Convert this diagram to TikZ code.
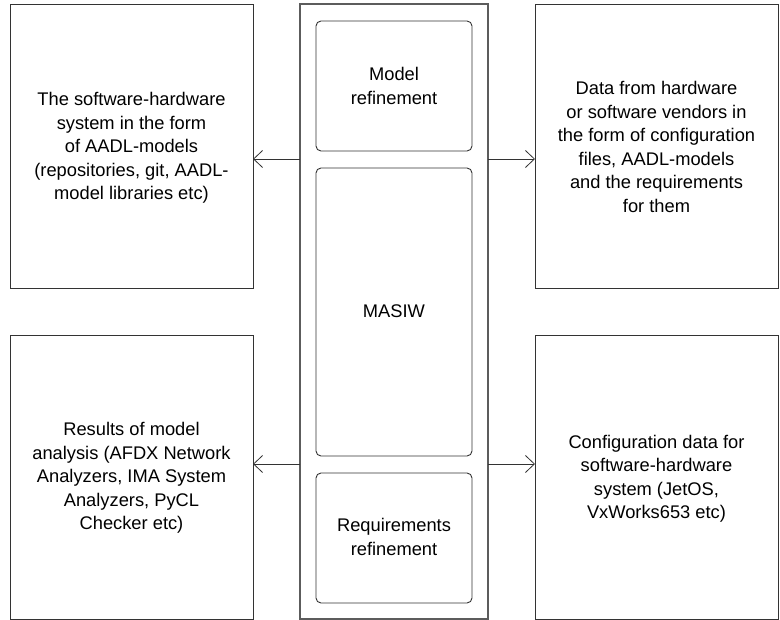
\documentclass[tikz,border=0pt]{standalone}
\usepackage{fontspec}
\setmainfont{Liberation Sans}
\usetikzlibrary{arrows.meta}
\definecolor{ln}{HTML}{333333}
\tikzset{
  txt/.style={align=center, font=\fontsize{18.3}{23.5}\selectfont, text=black, inner sep=0pt},
  sqbox/.style={draw=ln, line width=0.9pt},
  rbox/.style={draw=ln, line width=0.9pt, rounded corners=5pt},
  conn/.style={draw=ln, line width=0.8pt, -{Straight Barb[length=9pt,width=17pt,line width=0.8pt]}}
}
\begin{document}
\begin{tikzpicture}[x=1pt,y=-1pt]
\useasboundingbox (0,0) rectangle (780,620);
% outer left/right boxes
\draw[sqbox] (10,4) rectangle (253,288);
\node[txt] (tl) at (131.5,148) {The software-hardware\\system in the form\\of AADL-models\\(repositories, git, AADL-\\model libraries etc)};
\coordinate (tlE) at (253,159);
\draw[sqbox] (10,335) rectangle (253,619);
\node[txt] (bl) at (131.5,478) {Results of model\\analysis (AFDX Network\\Analyzers, IMA System\\Analyzers, PyCL\\Checker etc)};
\coordinate (blE) at (253,464);
\draw[sqbox] (535,4) rectangle (778,288);
\node[txt] (tr) at (656.5,147) {Data from hardware\\or software vendors in\\the form of configuration\\files, AADL-models\\and the requirements\\for them};
\coordinate (trW) at (535,159);
\draw[sqbox] (535,335) rectangle (778,619);
\node[txt] (br) at (656.5,479) {Configuration data for\\software-hardware\\system (JetOS,\\VxWorks653 etc)};
\coordinate (brW) at (535,464);
% central
\draw[draw=ln!80, line width=1.2pt] (300,4) rectangle (488,619);
\coordinate (cW1) at (300,159);
\coordinate (cE1) at (488,159);
\coordinate (cW2) at (300,464);
\coordinate (cE2) at (488,464);
\draw[rbox] (316,21) rectangle (472,151);
\node[txt] (mr) at (394,86) {Model\\refinement};
\draw[rbox] (316,168) rectangle (472,456);
\node[txt] (ms) at (394,311) {MASIW};
\draw[rbox] (316,473) rectangle (472,603);
\node[txt] (rr) at (394,537) {Requirements\\refinement};
% connectors
\draw[conn] (cW1) -- (tlE);
\draw[conn] (cE1) -- (trW);
\draw[conn] (cW2) -- (blE);
\draw[conn] (cE2) -- (brW);
\end{tikzpicture}
\end{document}
